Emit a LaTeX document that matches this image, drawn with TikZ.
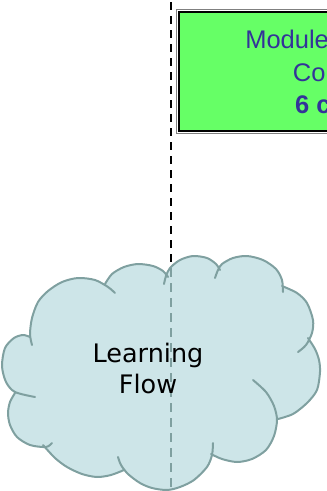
\documentclass[tikz,border=0pt]{standalone}
\usepackage{fontspec}
\newfontfamily\arialf{Liberation Sans}
\newfontfamily\dejavuf{DejaVu Sans}
\definecolor{boxgreen}{HTML}{66FF66}
\definecolor{boxtextblue}{HTML}{333399}
\definecolor{cloudfill}{HTML}{CDE5E8}
\definecolor{cloudedge}{HTML}{7FA0A0}
\tikzset{
  modbox/.style={draw=black, line width=2pt, fill=boxgreen, inner sep=0pt, outer sep=0pt,
    minimum width=220pt, minimum height=119.5pt, anchor=north west},
  modframe/.style={draw=gray, line width=0.8pt},
  boxtext/.style={font=\arialf\fontsize{25.5}{30}\selectfont, text=boxtextblue, inner sep=0pt, anchor=base west},
  cloudtext/.style={font=\dejavuf\fontsize{25.5}{31}\selectfont, align=center, inner sep=0pt, text=black},
  lifeline/.style={draw=black, line width=1.8pt, dash pattern=on 7.5pt off 6.5pt},
  innerline/.style={draw=cloudedge, line width=1.4pt, dash pattern=on 9pt off 6pt},
  cloudshape/.style={draw=cloudedge, line width=2pt, line join=round, line cap=round},
}
\begin{document}
\begin{tikzpicture}[x=1pt, y=-1pt]
\useasboundingbox (0,0) rectangle (327,491);
\clip (0,0) rectangle (327,491);
% green module box
\node[modbox] (box) at (178.5,11.5) {};
\draw[modframe] ([xshift=-2.5pt,yshift=2pt]box.north west) rectangle ([xshift=5pt,yshift=-2.5pt]box.south east);
\node[boxtext] (t1) at (245.1,48) {Module};
\node[boxtext] (t2) at (292.7,81) {Co};
\node[boxtext, font=\arialf\bfseries\fontsize{25.5}{30}\selectfont] (t3) at (295,113) {6 c};
% lifeline
\coordinate (ltop) at (171,2);
\coordinate (lcloud) at (171,268);
\coordinate (lbot) at (171,490);
\draw[lifeline] (ltop) -- (lcloud);
% cloud fill
\fill[cloudfill]
  plot[smooth] coordinates {(35,397) (15,392) (6,382) (2,366) (5,348) (14,338) (23,335) (30,337)}
  -- plot[smooth] coordinates {(32,345) (30,334) (32,318) (38,302) (48,291) (62,282) (78,278) (95,280) (108,287) (115,293)}
  -- plot[smooth] coordinates {(105,284) (112,274) (124,267) (138,264) (153,266) (163,271) (168,277)}
  -- plot[smooth] coordinates {(164,284) (166,276) (170,268) (180,260) (193,256) (207,258) (216,264) (220,270)}
  -- plot[smooth] coordinates {(215,278) (218,270) (222,264) (233,258) (247,256) (263,260) (276,269) (282,280) (283,292)}
  -- plot[smooth] coordinates {(282,286) (297,293) (307,303) (313,320) (312,333) (306,345) (298,352)}
  -- plot[smooth] coordinates {(308,338) (315,349) (319,360) (320,372) (317,390) (307,403) (293,414) (278,419)}
  -- plot[smooth] coordinates {(253,380) (266,392) (274,406) (277,420) (274,436) (266,450) (252,459) (237,462) (222,459) (211,454)}
  -- plot[smooth] coordinates {(213,443) (212,455) (207,467) (194,480) (180,487) (167,490) (152,488) (140,483) (128,474) (121,465) (118,457)}
  -- plot[smooth] coordinates {(124,470) (111,475) (97,477) (82,474) (67,467) (55,458) (43,445)}
  -- plot[smooth] coordinates {(52,443) (46,447) (30,445) (17,437) (10,425) (8,413) (10,402) (15,393)}
  -- cycle;
% cloud outline
\draw[cloudshape]
  plot[smooth] coordinates {(35,397) (15,392) (6,382) (2,366) (5,348) (14,338) (23,335) (30,337)}
  plot[smooth] coordinates {(32,345) (30,334) (32,318) (38,302) (48,291) (62,282) (78,278) (95,280) (108,287) (115,293)}
  plot[smooth] coordinates {(105,284) (112,274) (124,267) (138,264) (153,266) (163,271) (168,277)}
  plot[smooth] coordinates {(164,284) (166,276) (170,268) (180,260) (193,256) (207,258) (216,264) (220,270)}
  plot[smooth] coordinates {(215,278) (218,270) (222,264) (233,258) (247,256) (263,260) (276,269) (282,280) (283,292)}
  plot[smooth] coordinates {(282,286) (297,293) (307,303) (313,320) (312,333) (306,345) (298,352)}
  plot[smooth] coordinates {(308,338) (315,349) (319,360) (320,372) (317,390) (307,403) (293,414) (278,419)}
  plot[smooth] coordinates {(253,380) (266,392) (274,406) (277,420) (274,436) (266,450) (252,459) (237,462) (222,459) (211,454)}
  plot[smooth] coordinates {(213,443) (212,455) (207,467) (194,480) (180,487) (167,490) (152,488) (140,483) (128,474) (121,465) (118,457)}
  plot[smooth] coordinates {(124,470) (111,475) (97,477) (82,474) (67,467) (55,458) (43,445)}
  plot[smooth] coordinates {(52,443) (46,447) (30,445) (17,437) (10,425) (8,413) (10,402) (15,393)};
% lifeline inside cloud
\draw[innerline] (lcloud) -- (lbot);
% cloud label
\node[cloudtext] (lf) at (148,368) {Learning\\Flow};
\end{tikzpicture}
\end{document}
